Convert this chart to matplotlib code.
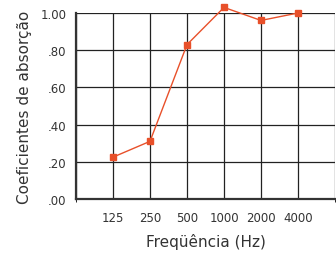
import matplotlib
matplotlib.use("Agg")
import matplotlib.pyplot as plt

freqs = ["125", "250", "500", "1000", "2000", "4000"]
coefs = [0.225, 0.31, 0.83, 1.03, 0.96, 1.00]
y_ticks = [0.0, 0.2, 0.4, 0.6, 0.8, 1.0]
y_labels = [".00", ".20", ".40", ".60", ".80", "1.00"]

fig = plt.figure(figsize=(3.36, 2.55), dpi=100)
ax = fig.add_axes([76 / 336, 55 / 255, 259 / 336, 186 / 255])

x = list(range(1, len(freqs) + 1))
ax.plot(x, coefs, color="#e8502a", lw=1.0, marker="s", ms=5,
        clip_on=False, zorder=5)

ax.set_xlim(0, 7)
ax.set_ylim(0, 1.0)
ax.set_xticks(x)
ax.set_xticklabels(freqs)
ax.set_xticks(range(0, 8), minor=True)
ax.set_yticks(y_ticks)
ax.set_yticklabels(y_labels)
ax.grid(True, which="both", color="#222222", lw=0.9)
ax.tick_params(length=0, labelsize=8.5, colors="#333333", pad=9)
ax.tick_params(axis="y", pad=7)
for side in ["left", "bottom"]:
    ax.spines[side].set_linewidth(1.6)
    ax.spines[side].set_color("#333333")
for side in ["top", "right"]:
    ax.spines[side].set_visible(False)

ax.set_xlabel("Freqüência (Hz)", fontsize=11, color="#333333", labelpad=6)
ax.set_ylabel("Coeficientes de absorção", fontsize=11, color="#333333", labelpad=6)

fig.savefig("out.png", dpi=100)
